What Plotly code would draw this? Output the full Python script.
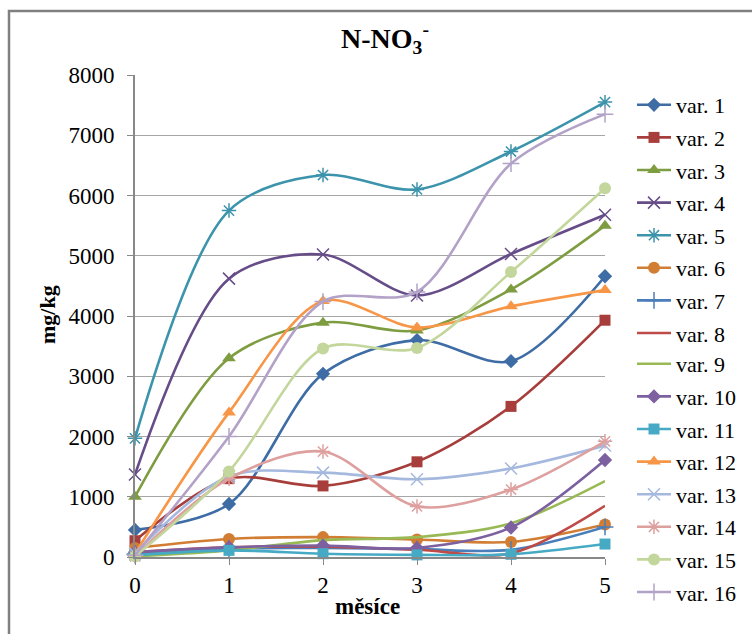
import plotly.graph_objects as go

months = [0, 1, 2, 3, 4, 5]
series_names = ["var. %d" % i for i in range(1, 17)]

var1 = [450, 880, 3040, 3600, 3250, 4660]
var2 = [270, 1300, 1180, 1580, 2500, 3930]
var3 = [1000, 3300, 3890, 3760, 4440, 5500]
var4 = [1370, 4620, 5020, 4340, 5030, 5680]
var5 = [1970, 5750, 6340, 6100, 6730, 7550]
var6 = [150, 300, 330, 290, 250, 540]
var7 = [50, 140, 150, 130, 120, 500]
var8 = [80, 160, 170, 120, 60, 850]
var9 = [10, 110, 280, 330, 560, 1260]
var10 = [80, 160, 190, 150, 490, 1610]
var11 = [30, 110, 55, 35, 45, 215]
var12 = [60, 2400, 4250, 3810, 4160, 4430]
var13 = [60, 1340, 1400, 1290, 1470, 1850]
var14 = [10, 1300, 1750, 840, 1120, 1920]
var15 = [10, 1420, 3460, 3470, 4730, 6120]
var16 = [30, 2000, 4240, 4400, 6530, 7350]

values = [var1, var2, var3, var4, var5, var6, var7, var8,
          var9, var10, var11, var12, var13, var14, var15, var16]

colors = ["#3E6CA5", "#A73E3B", "#7E9C40", "#664D88", "#3C94AC", "#D27D34",
          "#4A7EBB", "#BE4B48", "#98B954", "#7D60A0", "#46AAC5", "#F79646",
          "#A5B9DE", "#DDA09F", "#C3D69B", "#B3A2C7"]
symbols = ["diamond", "square", "triangle-up", "x-thin-open", "asterisk-open", "circle",
           "cross-thin-open", None, None, "diamond", "square", "triangle-up",
           "x-thin-open", "asterisk-open", "circle", "cross-thin-open"]
sizes = [11, 11, 12, 12, 12, 12, 12, 0, 0, 11, 11, 12, 12, 12, 12, 12]

FONT = "Liberation Serif, Times New Roman, serif"
fig = go.Figure()
for i, (name, vals) in enumerate(zip(series_names, values)):
    sym = symbols[i]
    thin = sym is not None and ("thin" in sym or "asterisk" in sym)
    marker = dict(symbol=sym if sym else "circle", size=sizes[i], color=colors[i],
                  line=dict(color=colors[i], width=1.5 if thin else 0))
    fig.add_trace(go.Scatter(
        x=months, y=vals, name=name,
        mode="lines+markers" if sym else "lines",
        line=dict(color=colors[i], width=2.6, shape="spline", smoothing=0.9),
        marker=marker, cliponaxis=False, legendgroup=name,
        legend="legend" if i < 8 else "legend2",
    ))

legend_common = dict(xref="container", yref="container", xanchor="left", yanchor="top",
                     font=dict(family=FONT, size=22, color="black"), tracegroupgap=1,
                     traceorder="grouped", bgcolor="rgba(0,0,0,0)", itemwidth=34)

fig.update_layout(
    width=752, height=634,
    margin=dict(l=135, r=147, t=75, b=77),
    paper_bgcolor="white", plot_bgcolor="white",
    font=dict(family=FONT, size=23, color="black"),
    title=dict(text="<b>N-NO<sub>3</sub><sup>-</sup></b>", x=385 / 752, xanchor="center",
               y=1 - 38 / 634, yanchor="middle", font=dict(family=FONT, size=28, color="black")),
    showlegend=True,
    legend=dict(x=632 / 752, y=1 - 84 / 634, **legend_common),
    legend2=dict(x=632 / 752, y=1 - 343 / 634, **legend_common),
    xaxis=dict(range=[0, 5], tickvals=months, ticks="outside", ticklen=6,
               tickcolor="#888888", showline=True, linecolor="#888888", linewidth=2,
               showgrid=False, zeroline=False,
               tickfont=dict(family=FONT, size=23, color="black")),
    yaxis=dict(range=[0, 8000], dtick=1000, ticks="outside", ticklen=6,
               tickcolor="#888888", showline=True, linecolor="#888888", linewidth=2,
               showgrid=True, gridcolor="#A6A6A6", gridwidth=1, zeroline=False,
               ticklabelstandoff=8,
               tickfont=dict(family=FONT, size=23, color="black")),
    shapes=[dict(type="rect", xref="paper", yref="paper",
                 x0=(9 - 135) / 470, x1=2.0, y0=-1.0, y1=(557 - 11) / 482,
                 line=dict(color="#808080", width=2.5), layer="below")],
    annotations=[
        dict(text="<b>mg/kg</b>", xref="paper", yref="paper", x=(47 - 135) / 470,
             y=(557 - 315) / 482, xanchor="center", yanchor="middle",
             textangle=-90, showarrow=False, font=dict(family=FONT, size=22)),
        dict(text="<b>měsíce</b>", xref="paper", yref="paper", x=(367 - 135) / 470,
             y=(557 - 606) / 482, xanchor="center", yanchor="middle",
             showarrow=False, font=dict(family=FONT, size=23)),
    ],
)

fig.write_html("out.html")
